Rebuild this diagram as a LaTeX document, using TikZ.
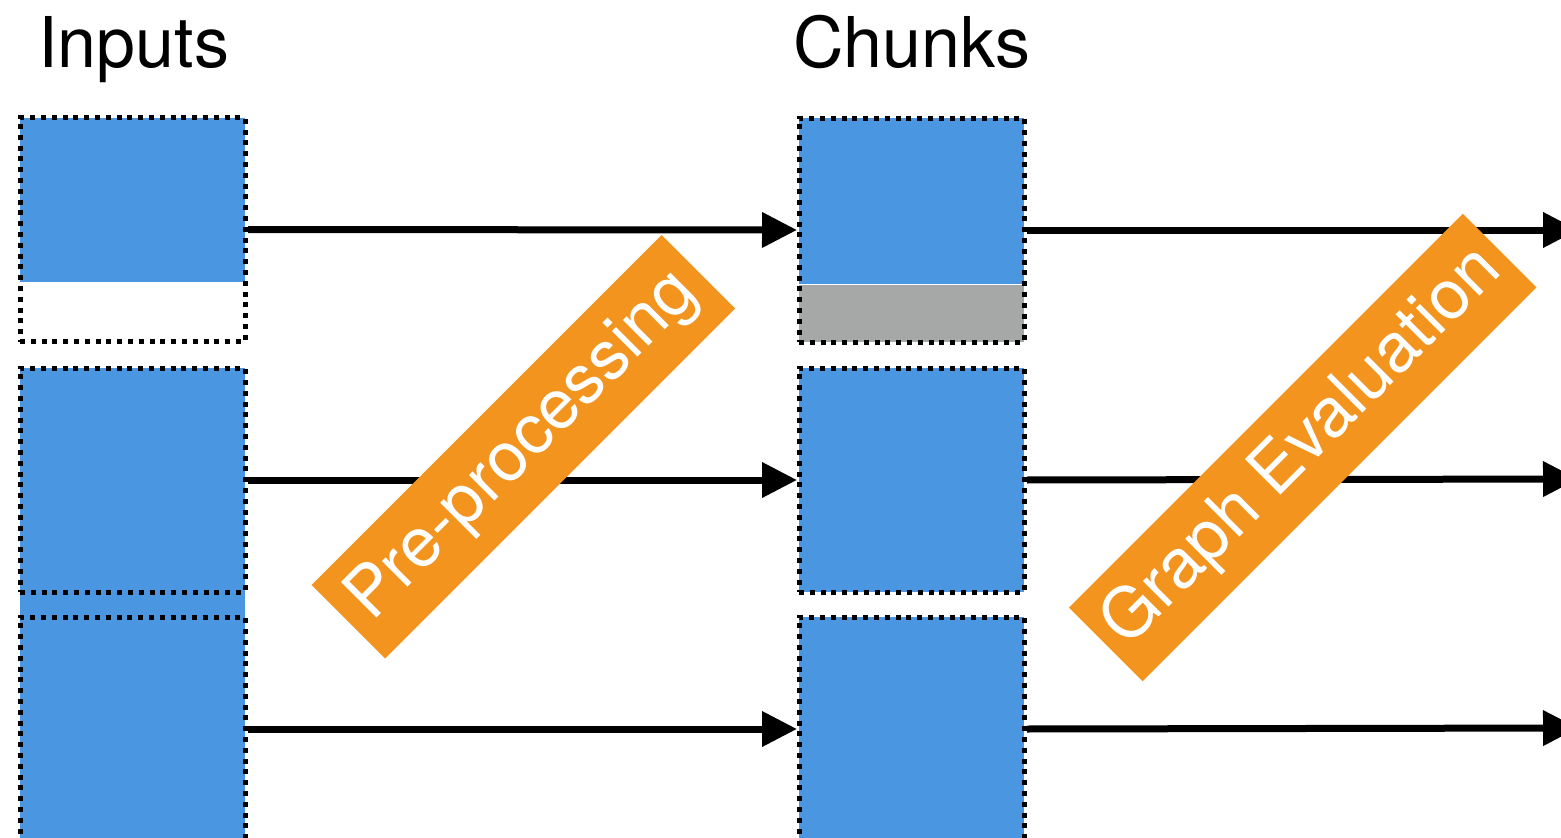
\documentclass[tikz,border=0pt]{standalone}
\usepackage{fontspec}
\setmainfont{TeX Gyre Heros}
\usetikzlibrary{arrows.meta}
\definecolor{inblue}{RGB}{74,150,225}
\definecolor{chgray}{RGB}{165,168,167}
\definecolor{bannerorange}{RGB}{243,148,30}
\tikzset{
  box/.style={draw=black, line width=5pt, dash pattern=on 5pt off 5.8pt,
    inner sep=0pt, outer sep=0pt, minimum width=225pt, minimum height=224pt},
  arr/.style={line width=7pt, -{Triangle[length=35pt,width=34pt]}},
  banner/.style={fill=bannerorange, text=white, rotate=45, inner sep=0pt,
    minimum height=104pt, font=\fontsize{69}{80}\selectfont},
  title/.style={anchor=base west, inner sep=0pt, font=\fontsize{70}{80}\selectfont}
}
\begin{document}
\begin{tikzpicture}[x=1pt,y=-1pt]
\useasboundingbox (0,0) rectangle (1561,838);
% fills
\fill[inblue] (20,118) rectangle (245,282);
\fill[inblue] (20,368) rectangle (245,860);
\fill[inblue] (799,118) rectangle (1024,284);
\fill[chgray] (799,285) rectangle (1024,342);
\fill[inblue] (799,368) rectangle (1024,592);
\fill[inblue] (799,617) rectangle (1024,860);
% boxes
\node[box] (in1) at (132.5,229.5) {};
\node[box] (in2) at (132.5,480) {};
\node[box] (in3) at (132.5,729) {};
\node[box] (ch1) at (911.5,230) {};
\node[box] (ch2) at (911.5,480) {};
\node[box] (ch3) at (911.5,729) {};
% titles
\node[title] (tin) at (38,67) {Inputs};
\node[title] (tch) at (793,67) {Chunks};
% free ends
\coordinate (o1) at (1578,230);
\coordinate (o2) at (1578,479);
\coordinate (o3) at (1578,728);
% arrows
\draw[arr, shorten <=3pt, shorten >=2pt] (in1.east) -- (ch1.west);
\draw[arr, shorten <=3pt, shorten >=2pt] (in2.east) -- (ch2.west);
\draw[arr, shorten <=3pt, shorten >=2pt] (in3.east) -- (ch3.west);
\draw[arr, shorten <=3pt] (ch1.east) -- (o1);
\draw[arr, shorten <=3pt] (ch2.east) -- (o2);
\draw[arr, shorten <=3pt] (ch3.east) -- (o3);
% banners
\node[banner, minimum width=495pt] (pre) at (523.4,446.75) {Pre-processing};
\node[banner, minimum width=557pt] (ge) at (1302.75,447.5) {Graph Evaluation};
\end{tikzpicture}
\end{document}
